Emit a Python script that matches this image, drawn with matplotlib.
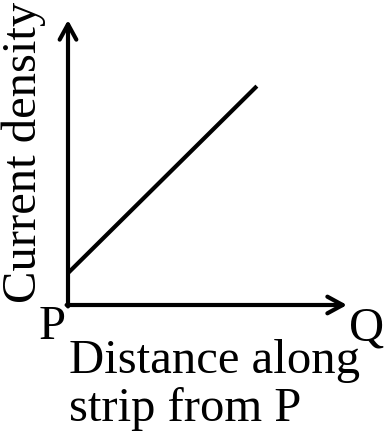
import numpy as np
import matplotlib.pyplot as plt

plt.rcParams['font.family'] = ['Liberation Serif', 'DejaVu Serif']

# line: current density grows linearly from P towards Q
distance = [0.0, 0.677]
density = [0.112, 0.768]

W, H = 385, 442
fig = plt.figure(figsize=(W / 100, H / 100), dpi=100)
# origin at pixel (68, 305), arrow tips at x=347 and y=20
ax = fig.add_axes([68 / W, (H - 305) / H, (347 - 68) / W, (305 - 20) / H])
ax.set_xlim(0, 1)
ax.set_ylim(0, 1)
ax.axis('off')

ax.plot(distance, density, color='black', lw=3, solid_capstyle='butt')

arrow = dict(arrowstyle='->,head_length=1.1,head_width=0.6', color='black', lw=3,
             shrinkA=0, shrinkB=0)
ax.annotate('', xy=(1, 0), xytext=(-0.005, 0), arrowprops=arrow, annotation_clip=False)
ax.annotate('', xy=(0, 1), xytext=(0, -0.005), arrowprops=arrow, annotation_clip=False)

fs = 35
fig.text(24 / W, 1 - 152 / H, 'Current density', rotation=90, fontsize=fs,
         ha='center', va='center')
fig.text(52 / W, 1 - 327 / H, 'P', fontsize=fs, ha='center', va='center')
fig.text(367 / W, 1 - 328 / H, 'Q', fontsize=fs, ha='center', va='center')
fig.text(69 / W, 1 - 373 / H, 'Distance along', fontsize=fs, ha='left', va='baseline')
fig.text(69 / W, 1 - 421 / H, 'strip from P', fontsize=fs, ha='left', va='baseline')

fig.savefig('out.png', dpi=100)
